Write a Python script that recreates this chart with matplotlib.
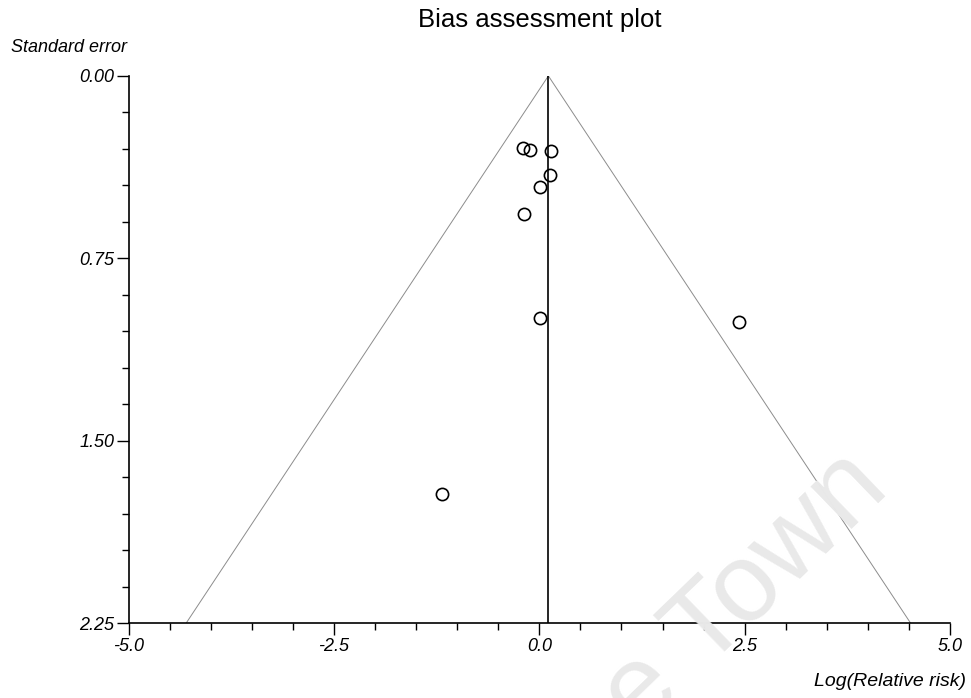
import matplotlib
matplotlib.use("Agg")
import matplotlib.pyplot as plt
import numpy as np

# Study estimates: log relative risk and its standard error
log_rr = [-0.195, -0.113, 0.139, 0.130, 0.009, -0.190, 0.009, 2.435, -1.181]
std_err = [0.298, 0.305, 0.308, 0.409, 0.457, 0.567, 0.994, 1.013, 1.720]
pooled = 0.11

x_major = [-5.0, -2.5, 0.0, 2.5, 5.0]
y_major = [0.00, 0.75, 1.50, 2.25]

plt.rcParams['font.family'] = ['Liberation Sans', 'DejaVu Sans']

W, H = 971, 698
fig = plt.figure(figsize=(W / 100, H / 100), dpi=100)
left, right, top, bottom = 128.7, 950.0, 75.9, 623.1
ax = fig.add_axes([left / W, 1 - bottom / H, (right - left) / W, (bottom - top) / H])

# Faint background watermark
fig.text(745 / W, 1 - 592 / H, "e Town", fontsize=80, color="#e9e9e9", rotation=44,
         ha="center", va="center", zorder=0)
ax.set_facecolor("none")

# Funnel: 95% pseudo-confidence limits around the pooled estimate
se_max = 2.25
ax.plot([pooled - 1.96 * se_max, pooled, pooled + 1.96 * se_max],
        [se_max, 0.0, se_max], color="#8c8c8c", lw=0.7, zorder=2)
ax.plot([pooled, pooled], [0.0, se_max], color="black", lw=1.2, zorder=2)

ax.plot(log_rr, std_err, linestyle="none", marker="o", markersize=8.8,
        markerfacecolor="none", markeredgecolor="black", markeredgewidth=1.2,
        zorder=3)

ax.set_xlim(-5.0, 5.0)
ax.set_ylim(2.25, 0.0)

for s in ("top", "right"):
    ax.spines[s].set_visible(False)
for s in ("left", "bottom"):
    ax.spines[s].set_linewidth(1.2)

ax.set_xticks(x_major)
ax.set_xticklabels([f"{v:.1f}" for v in x_major])
ax.set_xticks(np.arange(-5.0, 5.01, 0.5), minor=True)
ax.set_yticks(y_major)
ax.set_yticklabels([f"{v:.2f}" for v in y_major])
ax.set_yticks(np.arange(0.0, 2.251, 0.15), minor=True)

ax.tick_params(axis="both", which="major", length=8.5, width=1.0, direction="out",
               labelsize=13, pad=2)
ax.tick_params(axis="both", which="minor", length=5, width=1.0, direction="out")
for lab in ax.get_xticklabels() + ax.get_yticklabels():
    lab.set_fontstyle("italic")

fig.text((left + right) / 2 / W, 1 - 27 / H, "Bias assessment plot",
         fontsize=18.5, ha="center", va="baseline")
fig.text(11 / W, 1 - 47 / H, "Standard error", fontsize=13,
         style="italic", ha="left", va="center")
fig.text(966 / W, 1 - 681 / H, "Log(Relative risk)", fontsize=14,
         style="italic", ha="right", va="center")

fig.savefig("out.png", dpi=100)
